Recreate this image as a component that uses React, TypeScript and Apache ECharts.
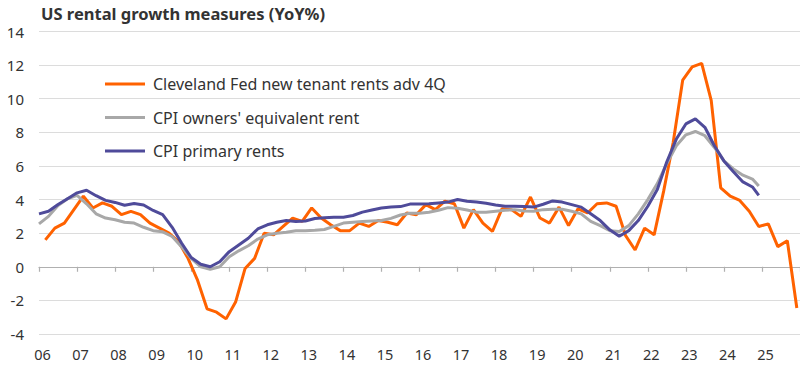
import React, { useEffect, useRef } from "react";
import * as echarts from "echarts";

const title = "US rental growth measures (YoY%)";
const seriesNames = [
  "Cleveland Fed new tenant rents adv 4Q",
  "CPI owners' equivalent rent",
  "CPI primary rents",
];
const colors = ["#FF6200", "#A8A8A8", "#4F4B9A"];

// Cleveland Fed (quarterly, Mar 2006 .. Dec 2025)
const clevelandFed = [
  1.6, 2.3, 2.6, 3.4, 4.2, 3.5, 3.8, 3.6, 3.1, 3.3,
  3.1, 2.6, 2.3, 2.0, 1.5, 0.5, -0.8, -2.5, -2.7, -3.1,
  -2.1, -0.1, 0.5, 2.0, 1.9, 2.4, 2.9, 2.7, 3.5, 2.9,
  2.5, 2.15, 2.15, 2.6, 2.4, 2.75, 2.65, 2.5, 3.2, 3.1,
  3.7, 3.4, 3.9, 3.75, 2.3, 3.4, 2.6, 2.1, 3.45, 3.4,
  3.0, 4.15, 2.9, 2.6, 3.55, 2.45, 3.45, 3.2, 3.75, 3.8,
  3.6, 1.85, 1.0, 2.3, 1.9, 4.5, 7.4, 11.1, 11.9, 12.1,
  9.9, 4.7, 4.2, 3.95, 3.3, 2.4, 2.55, 1.2, 1.55, -2.45,
];

// CPI OER (Jan 2006 quarterly .. Oct 2024, then Dec 2024)
const cpiOER = [
  2.55, 3.0, 3.65, 4.05, 4.25, 3.75, 3.15, 2.9, 2.8, 2.65,
  2.6, 2.35, 2.15, 2.08, 1.8, 1.17, 0.5, 0.0, -0.15, 0.0,
  0.6, 0.95, 1.25, 1.65, 1.9, 2.0, 2.05, 2.14, 2.14, 2.17,
  2.22, 2.4, 2.6, 2.65, 2.7, 2.73, 2.75, 2.88, 3.08, 3.18,
  3.18, 3.25, 3.36, 3.52, 3.48, 3.38, 3.25, 3.24, 3.3, 3.36,
  3.4, 3.32, 3.3, 3.4, 3.43, 3.42, 3.3, 3.15, 2.7, 2.45,
  2.15, 2.1, 2.45, 3.15, 4.0, 4.95, 6.15, 7.2, 7.85, 8.05,
  7.8, 7.1, 6.3, 5.82, 5.45, 5.22, 4.8,
];

// CPI primary rents
const cpiRent = [
  3.15, 3.3, 3.7, 4.05, 4.4, 4.55, 4.23, 3.95, 3.83, 3.66,
  3.76, 3.68, 3.35, 3.1, 2.35, 1.4, 0.55, 0.15, 0.0, 0.3,
  0.9, 1.3, 1.7, 2.25, 2.5, 2.65, 2.75, 2.7, 2.72, 2.87,
  2.92, 2.94, 2.95, 3.05, 3.25, 3.38, 3.5, 3.55, 3.58, 3.73,
  3.73, 3.75, 3.8, 3.85, 4.0, 3.9, 3.85, 3.78, 3.68, 3.6,
  3.6, 3.58, 3.55, 3.72, 3.92, 3.85, 3.7, 3.55, 3.15, 2.75,
  2.2, 1.82, 2.15, 2.75, 3.6, 4.6, 6.25, 7.6, 8.5, 8.8,
  8.3, 7.2, 6.3, 5.65, 5.05, 4.75, 4.25,
];

// x positions (decimal years)
const clevelandX = clevelandFed.map((_, i) => 2006 + 2 / 12 + i * 0.25);
const cpiX = cpiOER.map((_, i) => (i < 76 ? 2006 + i * 0.25 : 2024 + 11 / 12));

const yTicks = { min: -4, max: 14, interval: 2 };
const xRange = { min: 2006, max: 2026 };

const FONT = "'Noto Sans', sans-serif";

const GRID_TOP = 31.5;
const GRID_BOTTOM = 34;
const PLOT_H = 368 - GRID_TOP - GRID_BOTTOM;

export default function App() {
  const ref = useRef<HTMLDivElement>(null);
  useEffect(() => {
    if (!ref.current) return;
    const chart = echarts.init(ref.current, undefined, { renderer: "svg" });
    const pairs = (xs: number[], ys: number[]) => ys.map((v, i) => [xs[i], v]);
    const zeroY = GRID_TOP + (PLOT_H * (yTicks.max - 0)) / (yTicks.max - yTicks.min);
    chart.setOption({
      animation: false,
      backgroundColor: "#fff",
      textStyle: { fontFamily: FONT },
      title: {
        text: title,
        left: 36,
        top: 0,
        textStyle: { fontFamily: FONT, fontSize: 16.5, fontWeight: "bold", color: "#333" },
      },
      legend: {
        orient: "vertical",
        left: 100,
        top: 69,
        itemWidth: 40,
        itemHeight: 3,
        itemGap: 13.5,
        icon: "rect",
        data: seriesNames,
        textStyle: { fontFamily: FONT, fontSize: 16, color: "#333", lineHeight: 20, padding: [0, 0, 0, 3] },
      },
      grid: [
        { left: 39, right: 0, top: GRID_TOP, bottom: GRID_BOTTOM, containLabel: false },
        { left: 39, right: 0, top: zeroY, height: 6, containLabel: false },
      ],
      xAxis: [
        {
          type: "value",
          gridIndex: 0,
          ...xRange,
          interval: 1,
          position: "bottom",
          axisLine: { show: false, onZero: false },
          axisTick: { show: false },
          splitLine: { show: false },
          axisLabel: {
            margin: 12,
            fontFamily: FONT,
            fontSize: 14.5,
            color: "#333",
            showMaxLabel: false,
            padding: [0, 0, 0, 7],
            formatter: (v: number) => (Number.isInteger(v) && v < 2026 ? String(v % 100).padStart(2, "0") : ""),
          },
        },
        {
          type: "value",
          gridIndex: 1,
          ...xRange,
          interval: 1,
          position: "top",
          axisLine: { show: true, onZero: false, lineStyle: { color: "#B0B0B0", width: 1.2 } },
          axisTick: { show: true, inside: true, length: 5, lineStyle: { color: "#B0B0B0", width: 1.2 } },
          axisLabel: { show: false },
          splitLine: { show: false },
        },
      ],
      yAxis: [
        {
          type: "value",
          gridIndex: 0,
          ...yTicks,
          axisLine: { show: false },
          axisTick: { show: false },
          splitLine: { lineStyle: { color: "#DCDCDC", width: 1 } },
          axisLabel: { margin: 15, fontFamily: FONT, fontSize: 15, color: "#333" },
        },
        {
          type: "value",
          gridIndex: 1,
          min: 0,
          max: 1,
          show: false,
        },
      ],
      series: [
        {
          name: seriesNames[0],
          type: "line",
          xAxisIndex: 0,
          yAxisIndex: 0,
          data: pairs(clevelandX, clevelandFed),
          showSymbol: false,
          symbol: "none",
          lineStyle: { color: colors[0], width: 3 },
          itemStyle: { color: colors[0] },
          z: 3,
        },
        {
          name: seriesNames[1],
          type: "line",
          xAxisIndex: 0,
          yAxisIndex: 0,
          data: pairs(cpiX, cpiOER),
          showSymbol: false,
          symbol: "none",
          lineStyle: { color: colors[1], width: 3 },
          itemStyle: { color: colors[1] },
          z: 4,
        },
        {
          name: seriesNames[2],
          type: "line",
          xAxisIndex: 0,
          yAxisIndex: 0,
          data: pairs(cpiX, cpiRent),
          showSymbol: false,
          symbol: "none",
          lineStyle: { color: colors[2], width: 3 },
          itemStyle: { color: colors[2] },
          z: 5,
        },
      ],
    });
    return () => chart.dispose();
  }, []);
  return <div ref={ref} style={{ width: 800, height: 368, position: "absolute", left: 0, top: 0 }} />;
}
